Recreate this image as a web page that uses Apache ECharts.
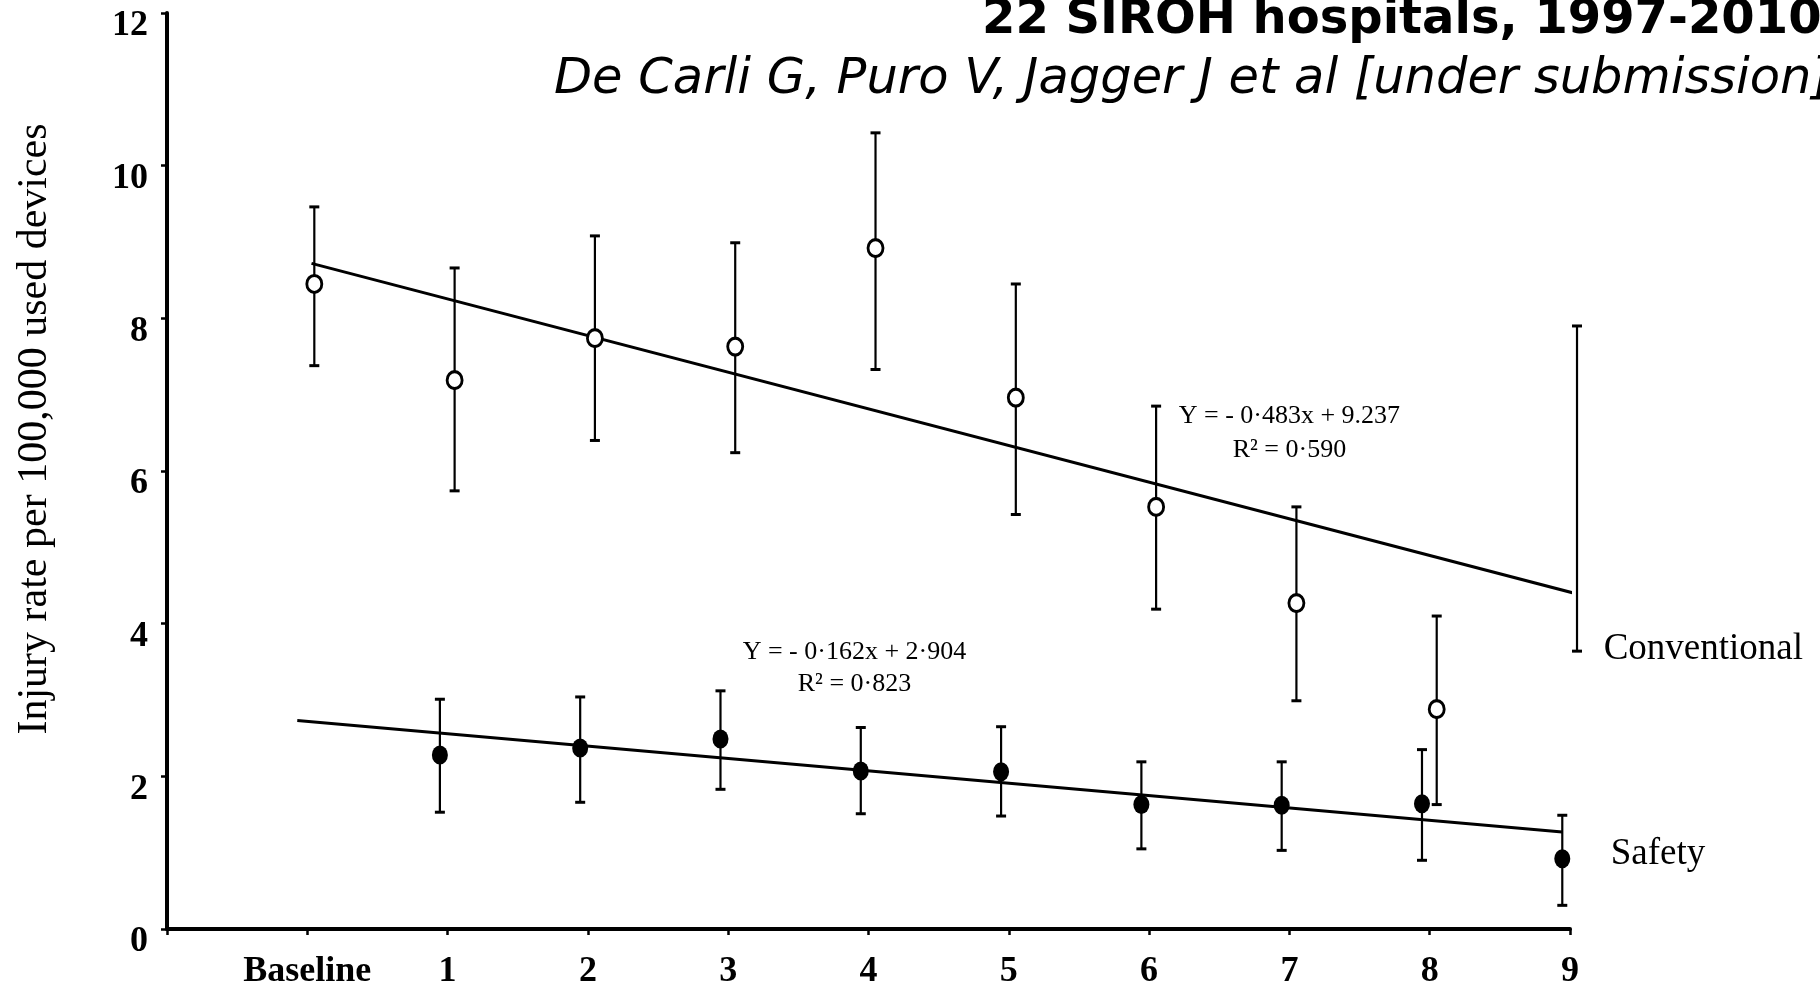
<!DOCTYPE html>
<html>
<head>
<meta charset="utf-8">
<script src="https://cdn.jsdelivr.net/npm/echarts@6/dist/echarts.min.js"></script>
<style>
html,body{margin:0;padding:0;background:#fff;}
#c{width:1820px;height:986px;}
</style>
</head>
<body>
<div id="c"></div>
<script>
// ---- data ----
const categories = ['Baseline', '1', '2', '3', '4', '5', '6', '7', '8', '9'];
const yTicks = [0, 2, 4, 6, 8, 10, 12];

const convMean = [8.45, 7.19, 7.74, 7.63, 8.92, 6.96, 5.53, 4.27, 2.88, 5.81];
const convLow  = [7.38, 5.74, 6.40, 6.24, 7.33, 5.43, 4.19, 2.99, 1.63, 3.64];
const convHigh = [9.46, 8.66, 9.08, 8.99, 10.43, 8.45, 6.85, 5.53, 4.10, 7.90];

const safeMean = [null, 2.28, 2.37, 2.49, 2.07, 2.06, 1.63, 1.62, 1.64, 0.92];
const safeLow  = [null, 1.53, 1.66, 1.83, 1.51, 1.48, 1.05, 1.03, 0.90, 0.31];
const safeHigh = [null, 3.01, 3.04, 3.12, 2.64, 2.65, 2.19, 2.19, 2.35, 1.49];

// trend line values at Baseline and at 9
const convTrend = [8.72, 4.38];
const safeTrend = [2.73, 1.27];

const convEq = ['Y = - 0·483x + 9.237', 'R² = 0·590'];
const safeEq = ['Y = - 0·162x + 2·904', 'R² = 0·823'];
const seriesNames = ['Conventional', 'Safety'];
const titleText = '22 SIROH hospitals, 1997-2010';
const subtitleText = 'De Carli G, Puro V, Jagger J et al [under submission]';
const yName = 'Injury rate per 100,000 used devices';

// ---- layout / style ----
const CONV_DX = 0.05;
const SAFE_DX = -0.055;
const SERIF = "'Liberation Serif', 'Times New Roman', serif";
const SANS = "'DejaVu Sans', Verdana, sans-serif";

const convPoints = [], convBars = [], safePoints = [], safeBars = [];
categories.forEach((c, i) => {
  if (convMean[i] != null) {
    convPoints.push([i + CONV_DX, convMean[i]]);
    convBars.push([i + CONV_DX, convLow[i], convHigh[i]]);
  }
  if (safeMean[i] != null) {
    safePoints.push([i + SAFE_DX, safeMean[i]]);
    safeBars.push([i + SAFE_DX, safeLow[i], safeHigh[i]]);
  }
});
const last = categories.length - 1;
const convLine = [[0 + CONV_DX * 0.6, convTrend[0]], [last + CONV_DX * 1.4, convTrend[1]]];
const safeLine = [[0 + SAFE_DX * 1.3, safeTrend[0]], [last + SAFE_DX, safeTrend[1]]];

function errRender(params, api) {
  const x = api.value(0);
  const lo = api.coord([x, api.value(1)]);
  const hi = api.coord([x, api.value(2)]);
  const hw = 5;
  const st = {stroke: '#000', lineWidth: 2.2};
  const cap = {stroke: '#000', lineWidth: 3};
  return {
    type: 'group',
    children: [
      {type: 'line', shape: {x1: lo[0], y1: lo[1], x2: hi[0], y2: hi[1]}, style: st},
      {type: 'line', shape: {x1: hi[0] - hw, y1: hi[1], x2: hi[0] + hw, y2: hi[1]}, style: cap},
      {type: 'line', shape: {x1: lo[0] - hw, y1: lo[1], x2: lo[0] + hw, y2: lo[1]}, style: cap}
    ]
  };
}

const chart = echarts.init(document.getElementById('c'), null, {renderer: 'canvas'});
const option = {
  backgroundColor: '#fff',
  animation: false,
  title: [
    {text: titleText, left: 982, top: -3, padding: 0,
     textStyle: {fontFamily: SANS, fontWeight: 'bold', fontSize: 48, color: '#000'}},
    {text: subtitleText, left: 554, top: 55, padding: 0,
     textStyle: {fontFamily: SANS, fontStyle: 'italic', fontWeight: 'normal', fontSize: 49.5, color: '#000'}}
  ],
  grid: {left: 167, right: 250, top: 13, bottom: 57, containLabel: false, outerBoundsMode: 'none'},
  xAxis: {
    type: 'value', min: -1, max: 9, interval: 1,
    splitLine: {show: false},
    axisLine: {show: true, onZero: false, lineStyle: {color: '#000', width: 4}},
    axisTick: {show: true, inside: false, length: 6, lineStyle: {color: '#000', width: 2.5}},
    axisLabel: {
      margin: 25, color: '#000', fontFamily: SERIF, fontWeight: 'bold', fontSize: 36,
      formatter: v => (v >= 0 && v < categories.length ? categories[Math.round(v)] : '')
    }
  },
  yAxis: {
    type: 'value', min: yTicks[0], max: yTicks[yTicks.length - 1], interval: 2,
    splitLine: {show: false},
    axisLine: {show: true, onZero: false, lineStyle: {color: '#000', width: 4}},
    axisTick: {show: true, inside: false, length: 6, lineStyle: {color: '#000', width: 2.5}},
    axisLabel: {
      margin: 19, color: '#000', fontFamily: SERIF, fontWeight: 'bold', fontSize: 36,
      verticalAlign: 'top', lineHeight: 26
    }
  },
  series: [
    {name: seriesNames[0] + ' trend', type: 'line', data: convLine, symbol: 'none', silent: true,
     lineStyle: {color: '#000', width: 3}, z: 2},
    {name: seriesNames[1] + ' trend', type: 'line', data: safeLine, symbol: 'none', silent: true,
     lineStyle: {color: '#000', width: 3}, z: 2},
    {name: seriesNames[0] + ' err', type: 'custom', data: convBars, renderItem: errRender, z: 3, silent: true},
    {name: seriesNames[1] + ' err', type: 'custom', data: safeBars, renderItem: errRender, z: 3, silent: true},
    {name: seriesNames[0], type: 'scatter', data: convPoints, symbol: 'circle', symbolSize: [15, 17], z: 5,
     itemStyle: {color: '#fff', borderColor: '#000', borderWidth: 3, opacity: 1}, silent: true},
    {name: seriesNames[1], type: 'scatter', data: safePoints, symbol: 'circle', symbolSize: [16, 19], z: 5,
     itemStyle: {color: '#000', borderColor: '#000', borderWidth: 0, opacity: 1}, silent: true}
  ]
};
chart.setOption(option);

function px(x, y) { return chart.convertToPixel({gridIndex: 0}, [x, y]); }
const pConvEq = px(7.0, 6.5);
const pSafeEq = px(3.9, 3.42);
const pConvLab = px(9.24, 3.66);
const pSafeLab = px(9.29, 0.98);
const pYName = [35, 429];

chart.setOption({
  graphic: [
    {type: 'text', x: pConvEq[0], y: pConvEq[1], silent: true,
     style: {text: convEq.join('\n'), fill: '#000', font: '26px ' + SERIF, align: 'center', verticalAlign: 'middle', lineHeight: 34}},
    {type: 'text', x: pSafeEq[0], y: pSafeEq[1], silent: true,
     style: {text: safeEq.join('\n'), fill: '#000', font: '26px ' + SERIF, align: 'center', verticalAlign: 'middle', lineHeight: 32}},
    {type: 'text', x: pConvLab[0], y: pConvLab[1], silent: true,
     style: {text: seriesNames[0], fill: '#000', font: '37px ' + SERIF, align: 'left', verticalAlign: 'middle'}},
    {type: 'text', x: pSafeLab[0], y: pSafeLab[1], silent: true,
     style: {text: seriesNames[1], fill: '#000', font: '37px ' + SERIF, align: 'left', verticalAlign: 'middle'}},
    {type: 'text', x: pYName[0], y: pYName[1], rotation: Math.PI / 2, silent: true,
     style: {text: yName, fill: '#000', font: '42px ' + SERIF, align: 'center', verticalAlign: 'middle'}}
  ]
});
</script>
</body>
</html>
